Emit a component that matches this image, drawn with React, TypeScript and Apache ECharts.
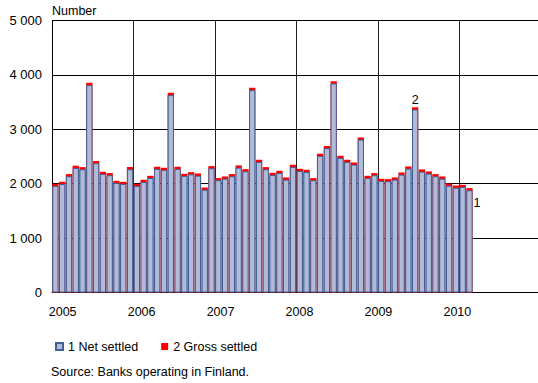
import { useEffect, useRef } from 'react';
import * as echarts from 'echarts';

const years = ['2005', '2006', '2007', '2008', '2009', '2010'];

// Monthly counts, Jan 2005 – Feb 2010
const netSettled = [
  1960, 1995, 2137, 2290, 2265, 3812, 2376, 2179, 2155, 2013, 1995, 2265,
  1958, 2032, 2105, 2271, 2253, 3628, 2271, 2142, 2173, 2148, 1890, 2284,
  2063, 2093, 2137, 2296, 2228, 3720, 2400, 2265, 2160, 2197, 2075, 2308,
  2234, 2216, 2063, 2511, 2652, 3843, 2474, 2400, 2351, 2811, 2105, 2155,
  2050, 2045, 2075, 2167, 2278, 3364, 2222, 2185, 2137, 2093, 1964, 1927,
  1940, 1879,
];
const grossSettled = [
  40, 40, 40, 40, 40, 42, 40, 40, 40, 40, 40, 40,
  40, 40, 40, 40, 40, 42, 40, 40, 40, 40, 40, 40,
  40, 40, 40, 40, 40, 42, 40, 40, 40, 40, 40, 40,
  40, 40, 40, 40, 40, 42, 40, 40, 40, 40, 40, 40,
  40, 40, 40, 40, 40, 42, 40, 40, 40, 40, 40, 40,
  40, 40,
];
const yTicks = [0, 1000, 2000, 3000, 4000, 5000];
const seriesNames = ['1 Net settled', '2 Gross settled'];
const sourceText = 'Source: Banks operating in Finland.';

export default function App() {
  const ref = useRef<HTMLDivElement>(null);
  useEffect(() => {
    const chart = echarts.init(ref.current!, null, { renderer: 'svg' });
    const font = '"Liberation Sans", Arial, sans-serif';
    const fs = 12.5;
    const last = netSettled.length - 1;
    const peak = 53; // June 2009
    const netData = netSettled.map((v, i) => {
      const item: any = { value: [i + 0.5, v] };
      if (i === last) {
        item.label = {
          show: true,
          position: ['100%', 6],
          formatter: '1',
          color: '#000',
          fontSize: fs,
          fontFamily: font,
          align: 'left',
          verticalAlign: 'top',
          offset: [1, 0],
        };
      }
      return item;
    });
    // gross settled drawn as the cap on top of net settled (total height)
    const grossData = grossSettled.map((v, i) => {
      const item: any = { value: [i + 0.5, netSettled[i] + v] };
      if (i === peak) {
        item.label = {
          show: true,
          position: 'top',
          distance: 1,
          formatter: '2',
          color: '#000',
          fontSize: fs,
          fontFamily: font,
        };
      }
      return item;
    });
    const labelStart = 1.57;
    const labelStep = 11.63;
    const labelAt = years.map((_, i) => labelStart + i * labelStep);
    const bw = 6.3;
    chart.setOption({
      animation: false,
      textStyle: { fontFamily: font },
      grid: { left: 52, right: -2, top: 20.5, bottom: 90.5, containLabel: false },
      legend: {
        left: 50,
        top: 335,
        itemWidth: 7,
        itemHeight: 7,
        itemGap: 23,
        icon: 'rect',
        textStyle: { fontSize: fs, color: '#000', fontFamily: font },
        data: seriesNames,
      },
      xAxis: {
        type: 'value',
        min: 0,
        max: 71.6,
        interval: 12,
        axisLine: { show: true, onZero: false, lineStyle: { color: '#000', width: 1 } },
        axisTick: { show: false },
        splitLine: { show: true, lineStyle: { color: '#222', width: 1 } },
        axisLabel: {
          show: true,
          customValues: labelAt,
          formatter: (v: number) => {
            const k = Math.round((v - labelStart) / labelStep);
            return years[k] ?? '';
          },
          fontSize: fs,
          color: '#000',
          margin: 13,
          fontFamily: font,
        },
      },
      yAxis: {
        type: 'value',
        min: yTicks[0],
        max: yTicks[yTicks.length - 1],
        interval: 1000,
        name: 'Number',
        nameLocation: 'end',
        nameGap: 3,
        nameTextStyle: { align: 'left', fontSize: fs, color: '#000', fontFamily: font },
        axisLine: { show: true, lineStyle: { color: '#000', width: 1 } },
        axisTick: { show: false },
        splitLine: { show: true, lineStyle: { color: '#000', width: 1 } },
        axisLabel: {
          fontSize: 13,
          color: '#000',
          margin: 10,
          fontFamily: font,
          formatter: (v: number) => (v === 0 ? '0' : `${v / 1000} 000`),
        },
      },
      series: [
        {
          name: seriesNames[1],
          type: 'bar',
          barWidth: bw,
          barGap: '-100%',
          z: 2,
          itemStyle: { color: '#ff0000' },
          data: grossData,
        },
        {
          name: seriesNames[0],
          type: 'bar',
          barWidth: bw,
          barGap: '-100%',
          z: 3,
          itemStyle: { color: '#b0bcd7', borderColor: '#41609a', borderWidth: 1 },
          data: netData,
        },
      ],
      graphic: [
        {
          type: 'text',
          left: 51,
          top: 365,
          style: { text: sourceText, fontSize: fs, fill: '#000', fontFamily: font },
        },
      ],
    });
    return () => chart.dispose();
  }, []);
  return (
    <div
      ref={ref}
      style={{ position: 'absolute', left: 0, top: 0, width: 538, height: 383, background: '#fff' }}
    />
  );
}
